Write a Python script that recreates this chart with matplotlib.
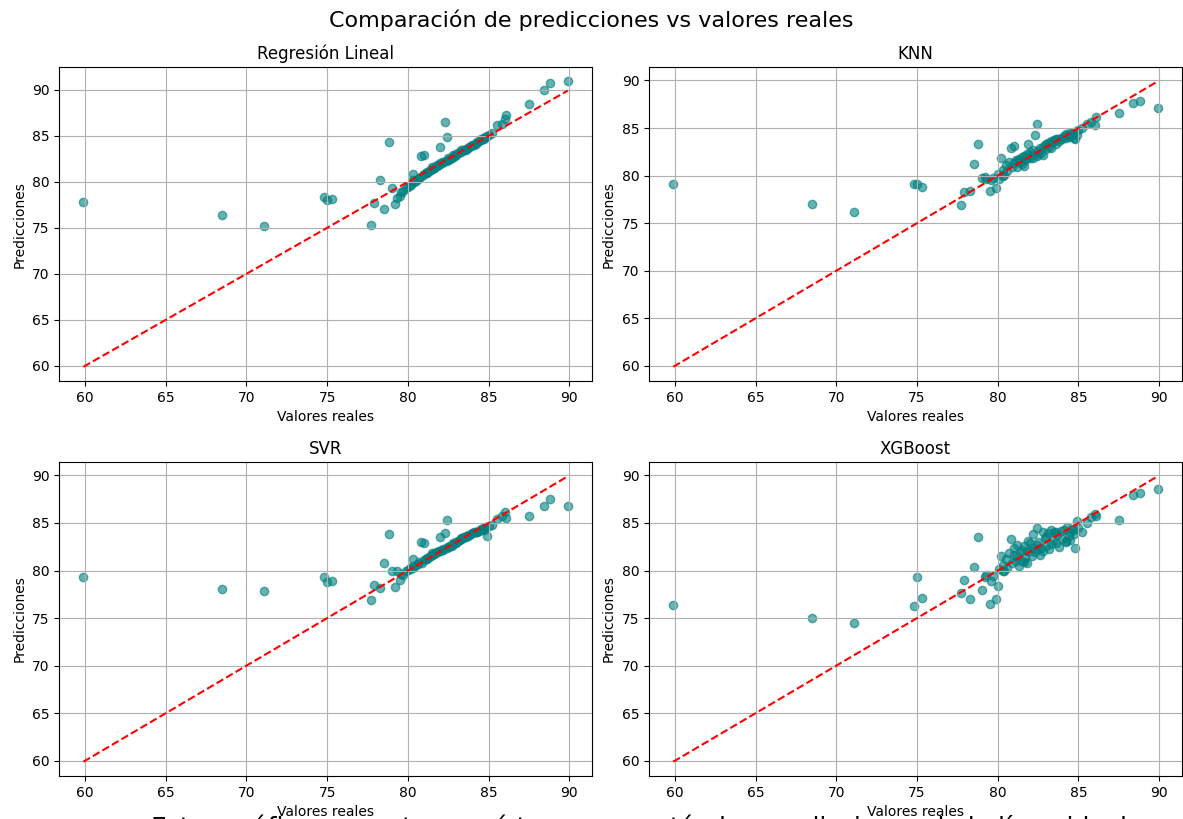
import numpy as np
import matplotlib.pyplot as plt

# valores reales (compartidos por los cuatro modelos)
y_real = [59.9, 68.5, 71.1, 74.8, 75.0, 75.3, 77.7, 77.9, 78.3, 78.5,
          78.8, 79.0, 79.2, 79.3, 79.5, 79.6, 79.7, 79.9, 80.0, 80.1,
          80.2, 80.3, 80.4, 80.5, 80.6, 80.7, 80.8, 80.9, 81.0, 81.0,
          81.1, 81.2, 81.3, 81.4, 81.5, 81.5, 81.6, 81.7, 81.8, 81.9,
          82.0, 82.0, 82.1, 82.2, 82.3, 82.4, 82.4, 82.5, 82.6, 82.7,
          82.8, 82.8, 82.9, 83.0, 83.1, 83.2, 83.3, 83.3, 83.4, 83.5,
          83.6, 83.7, 83.8, 83.9, 84.0, 84.1, 84.2, 84.3, 84.4, 84.5,
          84.5, 84.6, 84.7, 84.8, 84.9, 85.0, 85.2, 85.5, 85.8, 86.0,
          86.1, 87.5, 88.4, 88.8, 89.9, 80.3, 81.2, 81.8, 82.5, 83.0,
          83.6, 84.2, 84.7, 82.2, 81.6]

pred_lr = [77.8, 76.4, 75.2, 78.3, 78.0, 78.1, 75.3, 77.7, 80.2, 77.0,
           84.3, 79.3, 77.6, 78.2, 78.5, 78.9, 79.0, 79.3, 79.4, 79.7,
           79.6, 80.8, 80.0, 80.1, 80.3, 80.4, 82.8, 80.6, 82.9, 80.8,
           81.0, 81.0, 81.2, 81.3, 81.4, 81.6, 81.5, 81.6, 81.8, 81.8,
           83.8, 82.0, 82.0, 82.1, 86.5, 84.9, 82.3, 82.4, 82.5, 82.6,
           82.7, 82.9, 82.8, 82.9, 83.1, 83.2, 83.2, 83.4, 83.4, 83.5,
           83.6, 83.7, 83.8, 83.9, 84.0, 84.0, 84.2, 84.3, 84.4, 84.6,
           84.5, 84.7, 84.8, 84.9, 85.0, 85.1, 85.3, 86.2, 86.3, 86.8,
           87.2, 88.5, 90.0, 90.7, 90.9, 80.2, 81.1, 81.7, 82.6, 83.0,
           83.5, 84.1, 84.6, 82.2, 81.5]

pred_knn = [79.1, 77.0, 76.2, 79.1, 79.1, 78.8, 76.9, 78.3, 78.4, 81.2,
            83.3, 79.7, 79.9, 79.6, 78.4, 79.5, 79.8, 78.7, 80.2, 79.6,
            81.9, 80.6, 80.1, 81.1, 80.5, 81.4, 82.9, 80.9, 81.3, 83.1,
            81.6, 80.9, 81.7, 81.4, 82.0, 81.2, 82.1, 81.6, 82.3, 83.3,
            81.9, 82.5, 82.2, 82.7, 84.3, 85.4, 82.1, 82.6, 82.9, 82.4,
            83.0, 82.2, 83.2, 82.8, 83.4, 83.0, 83.6, 82.9, 83.5, 83.7,
            83.3, 83.9, 83.6, 84.0, 83.8, 84.2, 84.0, 84.3, 84.1, 84.5,
            84.2, 84.4, 84.6, 83.9, 84.3, 84.8, 85.0, 85.4, 85.6, 85.3,
            86.2, 86.6, 87.6, 87.8, 87.1, 80.0, 81.5, 81.8, 82.3, 83.3,
            83.8, 84.4, 84.0, 81.8, 81.0]

pred_svr = [79.3, 78.1, 77.9, 79.3, 78.8, 78.9, 76.9, 78.5, 78.2, 80.8,
            83.8, 80.0, 78.3, 80.0, 79.0, 79.6, 79.5, 79.9, 80.1, 80.2,
            80.4, 81.2, 80.5, 80.6, 80.7, 80.9, 83.0, 80.8, 81.1, 82.9,
            81.2, 81.2, 81.4, 81.5, 81.6, 81.8, 81.7, 81.8, 81.9, 82.0,
            83.5, 82.1, 82.2, 82.3, 83.9, 85.3, 82.4, 82.5, 82.6, 82.6,
            82.8, 82.9, 82.9, 83.0, 83.1, 83.2, 83.3, 83.4, 83.4, 83.5,
            83.6, 83.6, 83.7, 83.8, 83.9, 84.0, 84.0, 84.1, 84.2, 84.3,
            84.4, 84.4, 84.5, 84.6, 83.6, 84.7, 84.8, 85.4, 85.7, 86.1,
            85.5, 85.7, 86.8, 87.5, 86.8, 80.3, 81.3, 81.9, 82.5, 82.9,
            83.5, 84.0, 84.3, 82.2, 81.7]

pred_xgb = [76.4, 75.0, 74.5, 76.3, 79.3, 77.1, 77.6, 79.0, 77.0, 80.4,
            83.5, 78.0, 79.3, 79.5, 76.5, 78.9, 79.4, 77.0, 78.4, 80.2,
            81.5, 80.6, 79.9, 81.2, 80.3, 81.8, 83.3, 80.8, 81.6, 82.4,
            81.0, 82.7, 80.5, 81.9, 82.2, 81.0, 82.6, 81.3, 80.8, 83.1,
            82.0, 82.9, 81.5, 83.8, 81.9, 84.5, 82.7, 83.0, 81.6, 82.4,
            84.1, 82.0, 83.4, 82.6, 83.9, 82.3, 84.3, 82.8, 83.2, 84.0,
            82.9, 83.7, 82.5, 84.2, 83.3, 84.3, 83.1, 84.6, 83.6, 84.0,
            83.2, 84.4, 83.8, 82.4, 85.2, 84.5, 84.0, 85.0, 85.6, 85.9,
            85.7, 85.3, 87.9, 88.1, 88.6, 80.0, 81.4, 82.1, 82.3, 83.5,
            84.0, 83.0, 84.3, 82.4, 80.9]

modelos = ["Regresión Lineal", "KNN", "SVR", "XGBoost"]
predicciones = [pred_lr, pred_knn, pred_svr, pred_xgb]

fig, axes = plt.subplots(2, 2, figsize=(11.83, 8.19), dpi=100)
fig.subplots_adjust(left=0.05, right=0.999, top=0.918, bottom=0.0525,
                    wspace=0.107, hspace=0.258)

for ax, nombre, pred in zip(axes.flat, modelos, predicciones):
    ax.scatter(y_real, pred, color="teal", alpha=0.6)
    ax.plot([min(y_real), max(y_real)], [min(y_real), max(y_real)], "r--")
    ax.set_title(nombre)
    ax.set_xlabel("Valores reales")
    ax.set_ylabel("Predicciones")
    ax.grid(True)

fig.suptitle("Comparación de predicciones vs valores reales", fontsize=16, y=0.988)
# texto inferior, recortado por el borde como en el original
fig.text(0.54, 0.006,
         "Estos gráficos muestran qué tan cerca están las predicciones de la línea ideal",
         ha="center", va="top", fontsize=18)

plt.savefig("out.png", dpi=100)
